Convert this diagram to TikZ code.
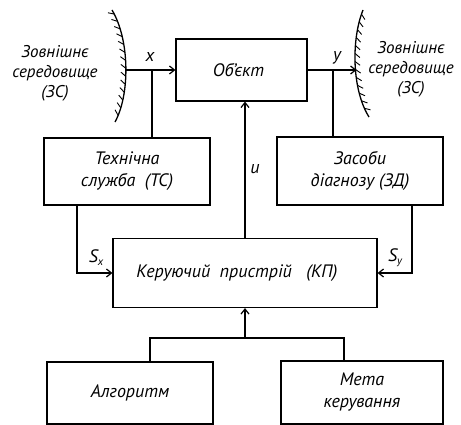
\documentclass[tikz,border=0pt]{standalone}
\usepackage{fontspec}
\setmainfont{PT Sans}
\usetikzlibrary{arrows.meta,decorations.markings}
\newcommand{\subsc}[1]{\raisebox{-3pt}{\fontsize{11}{11}\selectfont #1}}
\tikzset{
  blk/.style={draw, line width=1.2pt, inner sep=2pt, align=center, font=\itshape\fontsize{18}{22}\selectfont},
  lbl/.style={inner sep=0pt, align=center, font=\itshape\fontsize{18}{20}\selectfont},
  envtxt/.style={inner sep=0pt, align=center, font=\itshape\fontsize{17}{20}\selectfont},
  conn/.style={line width=1.2pt},
  arr/.style={line width=1.2pt, -{Straight Barb[length=5pt,width=8pt,line width=1.2pt]}},
  hatchL/.style={postaction={decorate}, decoration={markings,
     mark=between positions 0.04 and 0.98 step 8pt with {\draw[line width=0.9pt] (0pt,0pt) -- (-4pt,-5pt);}}},
  hatchR/.style={postaction={decorate}, decoration={markings,
     mark=between positions 0.04 and 0.98 step 8pt with {\draw[line width=0.9pt] (0pt,0pt) -- (4pt,5pt);}}}
}
\begin{document}
\begin{tikzpicture}[x=1pt,y=-1pt]
\useasboundingbox (0,0) rectangle (461,425);
% boxes
\node[blk, minimum width=131pt, minimum height=62pt] (obj) at (241.5,70) {Об’єкт\hspace*{6pt}};
\node[blk, minimum width=166pt, minimum height=67pt] (tc) at (127,171.5) {Технічна\\служба\ \ (ТС)};
\node[blk, minimum width=166pt, minimum height=68pt] (zd) at (360,171) {Засоби\\діагнозу (ЗД)};
\node[blk, minimum width=264pt, minimum height=69pt] (kp) at (245,273) {Керуючий\ \ пристрій\ \ \ (КП)\hspace*{16pt}};
\node[blk, minimum width=166pt, minimum height=62pt] (alg) at (130,393) {Алгоритм};
\node[blk, minimum width=162pt, minimum height=63pt] (meta) at (362,392.5) {Мета\\керування};
% environments
\draw[line width=1.3pt, hatchL] (112,10) .. controls (130,40) and (130,95) .. (115,122);
\coordinate (envL) at (125.5,70);
\draw[line width=1.3pt, hatchR] (363,10) .. controls (351,40) and (352,90) .. (369,117);
\coordinate (envR) at (356.5,70);
\node[envtxt] (envLt) at (55,73) {Зовнішнє\\середовище\\(ЗС)};
\node[envtxt] (envRt) at (411,69) {Зовнішнє\\середовище\\(ЗС)};
% signals
\draw[arr] (envL) -- (obj.west);
\coordinate (xb) at (152,70);
\draw[conn] (xb) -- (xb |- tc.north);
\node[lbl] (xl) at (150,57) {x};
\draw[arr] (obj.east) -- (envR);
\coordinate (yb) at (333,70);
\draw[conn] (yb) -- (yb |- zd.north);
\node[lbl] (yl) at (337,58) {y};
\coordinate (ub) at (245,0);
\draw[arr] (kp.north -| ub) -- (obj.south -| ub);
\node[lbl] (ul) at (255,169) {u};
\coordinate (sx) at (77,273);
\draw[arr] (tc.south -| sx) |- (kp.west);
\node[lbl] (sxl) at (96,258) {S\subsc{x}};
\coordinate (sy) at (412,273);
\draw[arr] (zd.south -| sy) |- (kp.east);
\node[lbl] (syl) at (395,258) {S\subsc{y}};
\coordinate (j) at (245,338);
\coordinate (a1) at (150,338);
\coordinate (m1) at (344,338);
\draw[arr] (j) -- (kp.south -| j);
\draw[conn] (alg.north -| a1) -- (a1) -- (m1) -- (meta.north -| m1);
\end{tikzpicture}
\end{document}
